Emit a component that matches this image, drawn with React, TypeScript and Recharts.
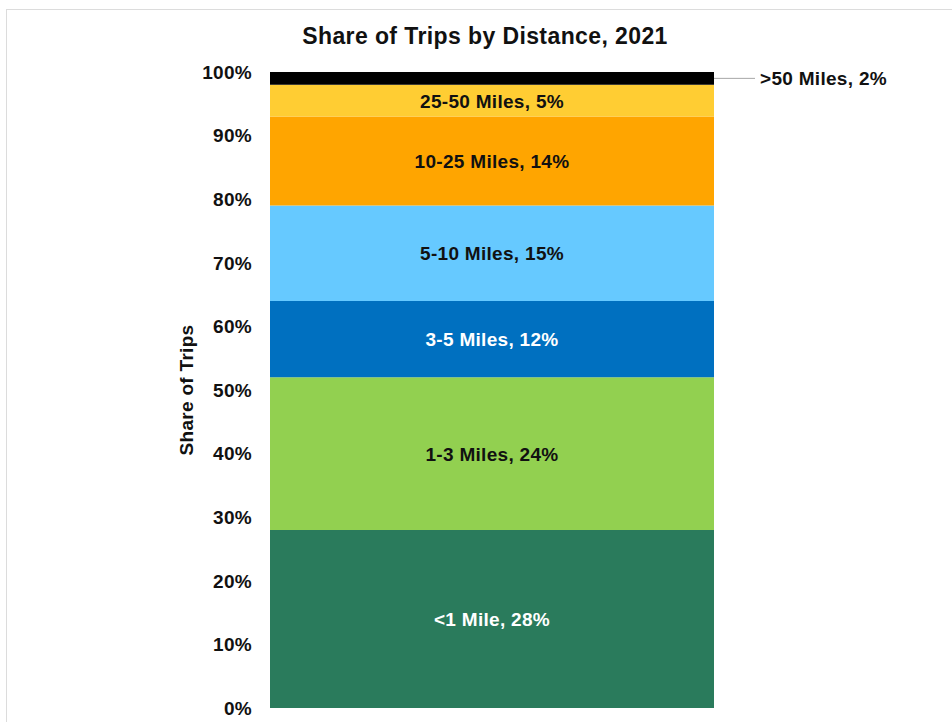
import { Bar, BarChart, LabelList, XAxis, YAxis } from 'recharts';

// Share of trips by distance band, bottom of the stack first
const distanceBands = [
  '<1 Mile',
  '1-3 Miles',
  '3-5 Miles',
  '5-10 Miles',
  '10-25 Miles',
  '25-50 Miles',
  '>50 Miles',
];
const tripShares = [28, 24, 12, 15, 14, 5, 2];
const bandColors = [
  '#2a7b5c',
  '#92d050',
  '#0070c0',
  '#66c9ff',
  '#ffa500',
  '#ffcd33',
  '#000000',
];
const labelColors = ['#ffffff', '#111111', '#ffffff', '#111111', '#111111', '#111111', '#111111'];
const shareTicks = [0, 10, 20, 30, 40, 50, 60, 70, 80, 90, 100];

const FONT = '"Liberation Sans", Arial, sans-serif';
const LABEL_SIZE = 19;
const LABEL_SPACING = 0.3;

const row: Record<string, number | string> = { year: '2021' };
distanceBands.forEach((band, i) => {
  row[`b${i}`] = tripShares[i];
});
const chartData = [row];

function insideLabel(i: number) {
  return (props: any) => {
    const { x, y, width, height } = props;
    return (
      <text
        x={Number(x) + Number(width) / 2}
        y={Number(y) + Number(height) / 2}
        dy={7}
        textAnchor="middle"
        fill={labelColors[i]}
        fontFamily={FONT}
        fontWeight={700}
        fontSize={LABEL_SIZE}
        letterSpacing={LABEL_SPACING}
      >
        {`${distanceBands[i]}, ${tripShares[i]}%`}
      </text>
    );
  };
}

function calloutLabel(i: number) {
  return (props: any) => {
    const { x, y, width, height } = props;
    const x0 = Number(x) + Number(width);
    const cy = Number(y) + Number(height) / 2;
    return (
      <g>
        <line x1={x0} y1={cy} x2={x0 + 41} y2={cy} stroke="#a6a6a6" strokeWidth={1} />
        <text
          x={x0 + 46}
          y={cy}
          dy={7}
          fill="#111111"
          fontFamily={FONT}
          fontWeight={700}
          fontSize={LABEL_SIZE}
          letterSpacing={LABEL_SPACING}
        >
          {`${distanceBands[i]}, ${tripShares[i]}%`}
        </text>
      </g>
    );
  };
}

export default function App() {
  const last = distanceBands.length - 1;
  return (
    <div
      style={{
        position: 'fixed',
        left: 0,
        top: 0,
        width: 952,
        height: 722,
        background: '#ffffff',
        overflow: 'hidden',
        fontFamily: FONT,
      }}
    >
      <div
        style={{
          position: 'absolute',
          left: 6,
          top: 9,
          width: 960,
          height: 740,
          borderTop: '1px solid #dcdcdc',
          borderLeft: '1px solid #dcdcdc',
        }}
      />
      <div
        style={{
          position: 'absolute',
          left: 0,
          top: 23,
          width: 970,
          textAlign: 'center',
          fontSize: 23,
          letterSpacing: 0.4,
          fontWeight: 700,
          color: '#111111',
        }}
      >
        Share of Trips by Distance, 2021
      </div>
      <div style={{ position: 'absolute', left: 0, top: 0 }}>
        <BarChart
          width={952}
          height={722}
          data={chartData}
          margin={{ top: 72, right: 238, bottom: 14, left: 0 }}
          barCategoryGap={0}
        >
          <XAxis dataKey="year" hide />
          <YAxis
            width={270}
            domain={[0, 100]}
            ticks={shareTicks}
            tickFormatter={(v) => `${v}%`}
            axisLine={false}
            tickLine={false}
            tickMargin={12}
            tick={{
              fill: '#111111',
              fontSize: LABEL_SIZE,
              fontWeight: 700,
              fontFamily: FONT,
              letterSpacing: LABEL_SPACING,
            }}
            label={{
              content: (props: any) => {
                const vb = props.viewBox || {};
                return (
                  <text
                    x={0}
                    y={0}
                    transform={`translate(193, ${Number(vb.y) + Number(vb.height) / 2}) rotate(-90)`}
                    textAnchor="middle"
                    fill="#111111"
                    fontFamily={FONT}
                    fontWeight={700}
                    fontSize={LABEL_SIZE}
                    letterSpacing={LABEL_SPACING}
                  >
                    Share of Trips
                  </text>
                );
              },
            }}
          />
          {distanceBands.map((band, i) => (
            <Bar
              key={band}
              dataKey={`b${i}`}
              name={band}
              stackId="trips"
              fill={bandColors[i]}
              isAnimationActive={false}
            >
              <LabelList
                dataKey={`b${i}`}
                content={i === last ? calloutLabel(i) : insideLabel(i)}
              />
            </Bar>
          ))}
        </BarChart>
      </div>
    </div>
  );
}
